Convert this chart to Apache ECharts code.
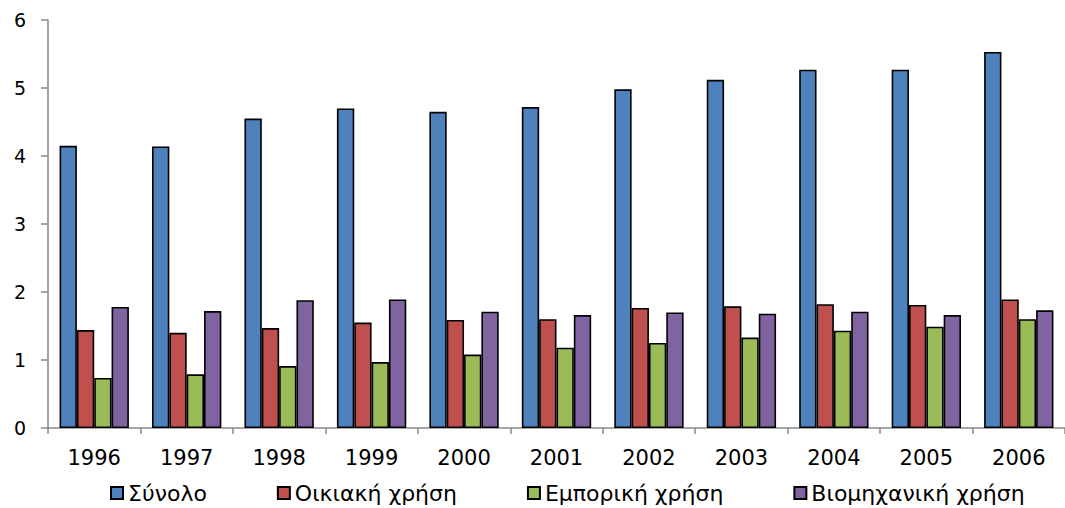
<!DOCTYPE html>
<html>
<head>
<meta charset="utf-8">
<script src="https://cdn.jsdelivr.net/npm/echarts@6/dist/echarts.min.js"></script>
<style>
html,body{margin:0;padding:0;background:#fff;}
#c{width:1065px;height:508px;}
</style>
</head>
<body>
<div id="c"></div>
<script>
const years = ['1996','1997','1998','1999','2000','2001','2002','2003','2004','2005','2006'];
const total = [4.15, 4.14, 4.55, 4.70, 4.65, 4.72, 4.98, 5.12, 5.27, 5.27, 5.53];
const household = [1.44, 1.40, 1.47, 1.55, 1.59, 1.60, 1.765, 1.79, 1.82, 1.81, 1.89];
const commercial = [0.735, 0.79, 0.91, 0.97, 1.08, 1.18, 1.25, 1.33, 1.43, 1.49, 1.60];
const industrial = [1.78, 1.72, 1.88, 1.89, 1.71, 1.66, 1.70, 1.68, 1.71, 1.66, 1.73];
const seriesNames = ['Σύνολο', 'Οικιακή χρήση', 'Εμπορική χρήση', 'Βιομηχανική χρήση'];
const colors = ['#4F81BD', '#C0504D', '#9BBB59', '#8064A2'];
const yTicks = [0, 1, 2, 3, 4, 5, 6];

const chart = echarts.init(document.getElementById('c'), null, {renderer: 'svg'});
const font = 'DejaVu Sans';
const dataSets = [total, household, commercial, industrial];
chart.setOption({
  animation: false,
  backgroundColor: '#fff',
  grid: {left: 48, right: -6, top: 20, bottom: 80, containLabel: false},
  legend: {
    bottom: -1,
    left: 105,
    itemWidth: 12,
    itemHeight: 12,
    itemGap: 70,
    icon: 'rect',
    textStyle: {fontFamily: font, fontSize: 22, color: '#000', padding: [0, 0, 0, 0]},
    data: seriesNames
  },
  xAxis: {
    type: 'category',
    data: years,
    boundaryGap: true,
    axisLine: {lineStyle: {color: '#898989', width: 1.5}},
    axisTick: {show: true, length: 6, lineStyle: {color: '#898989', width: 1.5}},
    axisLabel: {fontFamily: font, fontSize: 21, color: '#000', margin: 19}
  },
  yAxis: {
    type: 'value',
    min: 0, max: 6, interval: 1,
    axisLine: {show: true, lineStyle: {color: '#898989', width: 1.5}},
    axisTick: {show: true, length: 7, lineStyle: {color: '#898989', width: 1.5}},
    splitLine: {show: false},
    axisLabel: {fontFamily: font, fontSize: 19, color: '#000', margin: 22,
      formatter: v => yTicks.includes(v) ? String(v) : ''}
  },
  series: dataSets.map((d, i) => ({
    name: seriesNames[i],
    type: 'bar',
    data: d,
    barGap: '0%',
    barCategoryGap: '25%',
    itemStyle: {color: colors[i], borderColor: '#000', borderWidth: 1.6}
  }))
});
</script>
</body>
</html>
